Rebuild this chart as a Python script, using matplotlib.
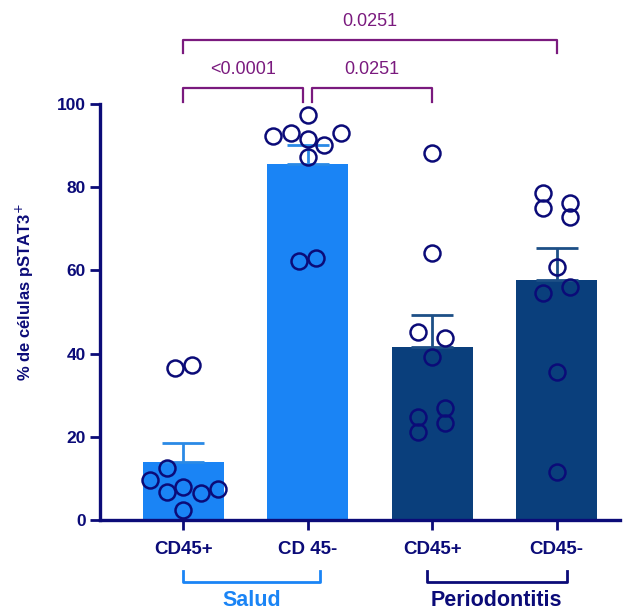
import numpy as np
import matplotlib
matplotlib.use("Agg")
import matplotlib.pyplot as plt

plt.rcParams['font.family'] = ['Liberation Sans', 'DejaVu Sans']

# data
labels = ["CD45+", "CD 45-", "CD45+", "CD45-"]
means = [14.0, 85.6, 41.6, 57.7]
sems = [4.5, 4.5, 7.7, 7.7]
points = [
    [36.5, 37.2, 12.5, 9.6, 6.7, 8.0, 6.5, 7.5, 2.4],
    [97.4, 92.3, 93.0, 91.6, 90.1, 93.0, 87.3, 62.3, 63.0],
    [88.2, 64.2, 45.2, 43.8, 39.2, 24.8, 21.2, 26.9, 23.3],
    [78.6, 75.0, 76.2, 72.8, 60.8, 54.6, 56.0, 35.6, 11.5],
]
groups = ["Salud", "Periodontitis"]
comparisons = [(0, 1, "<0.0001"), (1, 2, "0.0251"), (0, 3, "0.0251")]

# layout: horizontal scatter offsets (fraction of bar spacing)
jitter = [
    [-0.065, 0.07, -0.135, -0.27, -0.135, 0.0, 0.14, 0.28, 0.0],
    [0.0, -0.28, -0.135, 0.0, 0.13, 0.27, 0.0, -0.07, 0.065],
    [0.0, 0.0, -0.11, 0.105, 0.0, -0.11, -0.11, 0.105, 0.105],
    [-0.11, -0.11, 0.105, 0.105, 0.0, -0.11, 0.105, 0.0, 0.0],
]

navy = "#0b0b78"
light = "#1a84f5"
dark = "#0a3f7c"
purple = "#7a1a7e"
bar_colors = [light, light, dark, dark]
err_colors = ["#2a8ae6", "#2a8ae6", "#1d4f86", "#1d4f86"]

fig = plt.figure(figsize=(6.28, 6.12), dpi=100)
ax = fig.add_axes([100 / 628, 1 - 520 / 612, 520 / 628, 416 / 612])

x = np.arange(len(labels))
ax.bar(x, means, width=0.65, color=bar_colors, zorder=1)
for i in range(len(x)):
    ax.errorbar(x[i], means[i], yerr=[[0], [sems[i]]], color=err_colors[i],
                capsize=15, capthick=2, elinewidth=2, zorder=2)
    xs = x[i] + np.array(jitter[i])
    ax.plot(xs, points[i], 'o', ms=11.5, mfc='none', mec=navy, mew=1.8,
            zorder=3, clip_on=False)

ax.set_xlim(-0.67, 3.51)
ax.set_ylim(0, 100)
ax.set_yticks([0, 20, 40, 60, 80, 100])
ax.set_xticks(x)
ax.set_xticklabels(labels)
for s in ["top", "right"]:
    ax.spines[s].set_visible(False)
for s in ["left", "bottom"]:
    ax.spines[s].set_color(navy)
    ax.spines[s].set_linewidth(2.4)
ax.tick_params(axis='both', colors=navy, width=2, length=7)
ax.tick_params(axis='y', labelsize=12.5, pad=3)
ax.tick_params(axis='x', labelsize=13.5, pad=8)
for t in ax.get_xticklabels() + ax.get_yticklabels():
    t.set_fontweight('bold')
ax.set_ylabel("% de células pSTAT3$^{+}$", color=navy, fontsize=12,
              fontweight='bold')
ax.yaxis.set_label_coords(-0.123, 0.548)

# significance brackets
levels = {(0, 1): 103.8, (1, 2): 103.8, (0, 3): 115.4}
for a, b, txt in comparisons:
    y = levels[(a, b)]
    xa, xb = a + 0.0, b + 0.0
    if (a, b) == (0, 1):
        xb = b - 0.035
    if (a, b) == (1, 2):
        xa = a + 0.035
    ax.plot([xa, xa, xb, xb], [y - 3.2, y, y, y - 3.2], color=purple,
            lw=1.6, clip_on=False)
    ax.text((xa + xb) / 2, y + 4.5, txt, color=purple, fontsize=13,
            ha='center', va='center', clip_on=False)

# group brackets below the axis
group_spans = [(0, 1.1), (1.96, 3.08)]
group_colors = [light, navy]
for (ga, gb), name, c in zip(group_spans, groups, group_colors):
    ax.plot([ga, ga, gb, gb], [-12.3, -14.9, -14.9, -12.3], color=c, lw=2,
            clip_on=False)
    ax.text((ga + gb) / 2, -19.4, name, color=c, fontsize=15.5,
            fontweight='bold', ha='center', va='center', clip_on=False)

fig.savefig("out.png", dpi=100)
